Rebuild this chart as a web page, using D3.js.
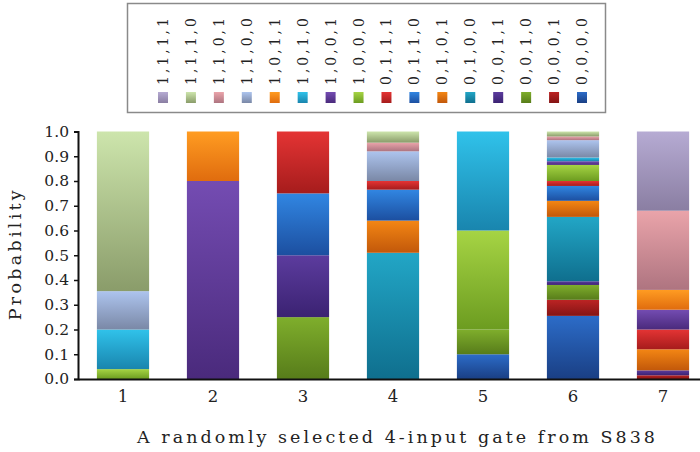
<!DOCTYPE html>
<html lang="en">
<head>
  <meta charset="UTF-8">
  <title>Probability per gate</title>
  <style>
    html, body { margin: 0; width: 700px; height: 452px; overflow: hidden; background: #fff; }
    svg { display: block; }
    text { font-family: 'DejaVu Serif', serif; fill: #222; }
  </style>
</head>
<body>
  <div id="chart"></div>
  <script src="https://cdn.jsdelivr.net/npm/d3@7"></script>
  <script>
    // input patterns, bottom of stack first (0,0,0,0 ... 1,1,1,1)
    const keys = ['0,0,0,0', '0,0,0,1', '0,0,1,0', '0,0,1,1', '0,1,0,0', '0,1,0,1', '0,1,1,0', '0,1,1,1',
                  '1,0,0,0', '1,0,0,1', '1,0,1,0', '1,0,1,1', '1,1,0,0', '1,1,0,1', '1,1,1,0', '1,1,1,1']
    const gates = ['1', '2', '3', '4', '5', '6', '7']
    const yTicks = [0, 0.1, 0.2, 0.3, 0.4, 0.5, 0.6, 0.7, 0.8, 0.9, 1.0]

    // probability of each pattern, same order as keys
    const gate1 = [0, 0, 0, 0, 0, 0, 0, 0, 0.04, 0, 0.16, 0, 0.155, 0, 0.645, 0]
    const gate2 = [0, 0, 0, 0, 0, 0, 0, 0, 0, 0.8, 0, 0.2, 0, 0, 0, 0]
    const gate3 = [0, 0, 0.25, 0.25, 0, 0, 0.25, 0.25, 0, 0, 0, 0, 0, 0, 0, 0]
    const gate4 = [0, 0, 0, 0, 0.51, 0.13, 0.125, 0.035, 0, 0, 0, 0, 0.12, 0.035, 0.045, 0]
    const gate5 = [0.1, 0, 0.1, 0, 0, 0, 0, 0, 0.4, 0, 0.4, 0, 0, 0, 0, 0]
    const gate6 = [0.255, 0.065, 0.06, 0.015, 0.26, 0.065, 0.06, 0.02, 0.065, 0.015, 0.015, 0, 0.07, 0.015, 0.02, 0]
    const gate7 = [0, 0.015, 0, 0.02, 0, 0.085, 0, 0.08, 0, 0.08, 0, 0.08, 0, 0.32, 0, 0.32]
    const gateValues = [gate1, gate2, gate3, gate4, gate5, gate6, gate7]

    // top / bottom shade of each pattern colour, same order as keys
    const colorsTop = ['#2c6cc8', '#bc2424', '#7fae2c', '#5c3c9e', '#22a6c6', '#f38614', '#3186e2', '#e43434',
                       '#a6d444', '#744cb2', '#30c2ea', '#ff9c22', '#adc4ee', '#eaa4aa', '#cde5ac', '#b6abd3']
    const colorsBottom = ['#1a3f84', '#841414', '#577c1a', '#3b2272', '#0f6f8e', '#c2580a', '#1c4fa0', '#a61c1c',
                          '#6c9c20', '#4a2a7c', '#1985ae', '#e06c0e', '#7a88a6', '#ae7480', '#8a9c6a', '#8a7ea2']

    const width = 700
    const height = 452
    const plot = { left: 78, right: 708, top: 131.5, bottom: 379 }
    const serif = "'DejaVu Serif', serif"

    const table = gates.map((g, i) => {
      const row = { gate: g }
      keys.forEach((k, j) => { row[k] = gateValues[i][j] })
      return row
    })

    const x = d3.scaleBand()
      .domain(gates)
      .range([plot.left, plot.right])
      .paddingInner(0.42)
      .paddingOuter(0.21)

    const y = d3.scaleLinear()
      .domain([0, 1])
      .range([plot.bottom, plot.top])

    const stack = d3.stack().keys(keys)
    const series = stack(table)

    const svg = d3.select('#chart').append('svg')
      .attr('width', width)
      .attr('height', height)

    const defs = svg.append('defs')
    keys.forEach((k, i) => {
      const grad = defs.append('linearGradient')
        .attr('id', 'grad' + i)
        .attr('x1', 0).attr('y1', 0).attr('x2', 0).attr('y2', 1)
      grad.append('stop').attr('offset', '0%').attr('stop-color', colorsTop[i])
      grad.append('stop').attr('offset', '100%').attr('stop-color', colorsBottom[i])
    })

    // bars
    svg.append('g')
      .selectAll('g')
      .data(series)
      .join('g')
      .attr('fill', (d, i) => `url(#grad${i})`)
      .selectAll('rect')
      .data(d => d.filter(p => p[1] - p[0] > 0))
      .join('rect')
      .attr('x', d => x(d.data.gate))
      .attr('y', d => y(d[1]))
      .attr('width', x.bandwidth())
      .attr('height', d => y(d[0]) - y(d[1]))

    // y axis
    const yAxis = svg.append('g')
      .attr('transform', `translate(${plot.left},0)`)
      .call(d3.axisLeft(y).tickValues(yTicks).tickFormat(d3.format('.1f')).tickSize(4).tickPadding(5))
    yAxis.attr('font-family', serif).attr('font-size', 15.5)
    yAxis.select('.domain').attr('stroke', '#111').attr('stroke-width', 2)
    yAxis.selectAll('.tick line').attr('stroke', '#111').attr('stroke-width', 1.5)
    yAxis.selectAll('.tick text').attr('fill', '#222')

    // x axis
    const xAxis = svg.append('g')
      .attr('transform', `translate(0,${plot.bottom})`)
      .call(d3.axisBottom(x).tickSize(0).tickPadding(11))
    xAxis.attr('font-family', serif).attr('font-size', 16.5)
    xAxis.select('.domain').attr('stroke', '#111').attr('stroke-width', 2)
    xAxis.selectAll('.tick text').attr('fill', '#222')

    // axis titles
    svg.append('text')
      .attr('transform', `translate(21,${(plot.top + plot.bottom) / 2}) rotate(-90)`)
      .attr('text-anchor', 'middle')
      .attr('font-family', serif)
      .attr('font-size', 17.5)
      .attr('textLength', 130)
      .attr('lengthAdjust', 'spacing')
      .text('Probability')

    svg.append('text')
      .attr('x', 396)
      .attr('y', 443)
      .attr('text-anchor', 'middle')
      .attr('font-family', serif)
      .attr('font-size', 17.5)
      .attr('textLength', 518)
      .attr('lengthAdjust', 'spacing')
      .text('A randomly selected 4-input gate from S838')

    // legend
    const legend = svg.append('g')
    legend.append('rect')
      .attr('x', 127.5).attr('y', 3.5)
      .attr('width', 478).attr('height', 109)
      .attr('fill', '#fff')
      .attr('stroke', '#8a8a8a')
      .attr('stroke-width', 1.5)

    const legendKeys = keys.slice().reverse()
    const lx = d3.scalePoint()
      .domain(legendKeys)
      .range([163, 582])

    const item = legend.selectAll('.item')
      .data(legendKeys)
      .join('g')
      .attr('class', 'item')
      .attr('transform', d => `translate(${lx(d)},0)`)

    item.append('rect')
      .attr('x', -5).attr('y', 92)
      .attr('width', 10).attr('height', 11)
      .attr('fill', d => `url(#grad${keys.indexOf(d)})`)

    item.append('text')
      .attr('transform', 'translate(5,85) rotate(-90)')
      .attr('font-family', serif)
      .attr('font-size', 14)
      .attr('textLength', 67)
      .attr('lengthAdjust', 'spacing')
      .text(d => d)
  </script>
</body>
</html>
